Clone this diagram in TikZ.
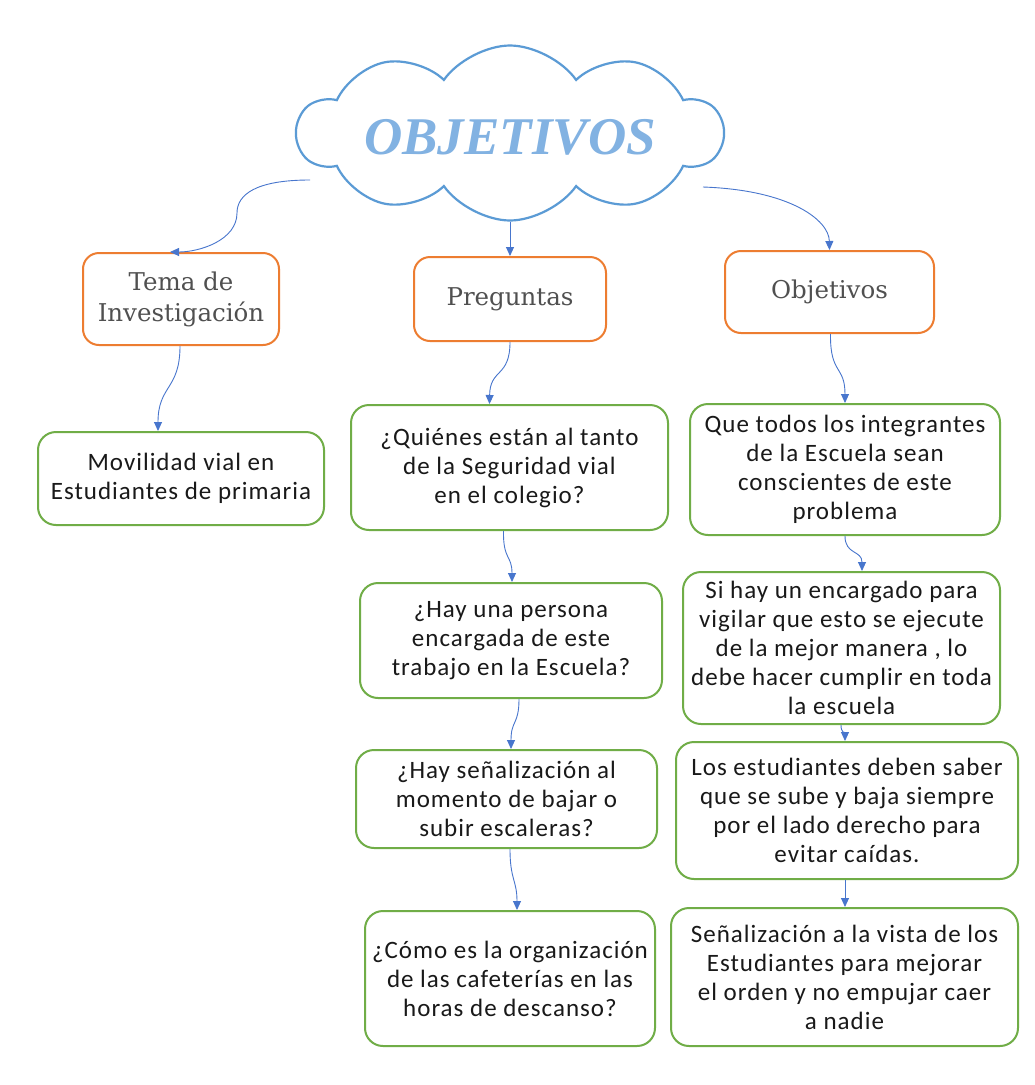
\documentclass[tikz,border=0pt]{standalone}
\usepackage{fontspec}
\setmainfont{Carlito}[LetterSpace=4]
\newfontfamily\headfont{DejaVu Serif}
\newfontfamily\titlefont{Liberation Serif}
\usetikzlibrary{shapes.symbols,arrows.meta,calc}
\definecolor{cloudblue}{RGB}{91,155,213}
\definecolor{titleblue}{RGB}{130,178,226}
\definecolor{arrowblue}{RGB}{72,118,205}
\definecolor{borange}{RGB}{237,125,49}
\definecolor{bgreen}{RGB}{112,173,71}
\definecolor{headgray}{RGB}{80,80,80}
\definecolor{txt}{RGB}{25,25,25}
\tikzset{
  obox/.style={draw=borange, line width=2pt, rounded corners=16pt, fill=white, inner sep=0pt, align=center, font=\headfont\fontsize{24.5}{31}\selectfont, text=headgray},
  gbox/.style={draw=bgreen, line width=2pt, rounded corners=18pt, fill=white, inner sep=0pt, align=center, font=\fontsize{25}{29}\selectfont, text=txt},
  conn/.style={draw=arrowblue, line width=0.9pt, -{Triangle[length=9pt,width=8pt]}}
}
\begin{document}
\begin{tikzpicture}[x=1pt,y=-1pt]
\useasboundingbox[fill=white] (0,0) rectangle (1035,1085);
% cloud
\node[cloud, cloud puffs=10, cloud puff arc=110, cloud ignores aspect, draw=cloudblue, line width=2.2pt, minimum width=425pt, minimum height=175pt, inner sep=0pt] (cloud) at (510,133) {};
\node[font=\titlefont\bfseries\itshape\fontsize{53}{56}\selectfont, text=titleblue] (title) at (510,137) {OBJETIVOS};
% header boxes
\node[obox, minimum width=196pt, minimum height=92pt] (tema) at (181,299) {Tema de\\Investigación};
\node[obox, minimum width=192pt, minimum height=84pt] (preg) at (510,299) {Preguntas};
\node[obox, minimum width=209pt, minimum height=82pt] (obj) at (829.5,292) {Objetivos};
% green boxes
\node[gbox, minimum width=286pt, minimum height=93pt] (mov) at (181,478.5) {Movilidad vial en\\Estudiantes de primaria};
\node[gbox, minimum width=317pt, minimum height=125pt] (q1) at (509.5,467.5) {¿Quiénes están al tanto\\de la Seguridad vial\\en el colegio?};
\node[gbox, minimum width=302pt, minimum height=115pt] (q2) at (511,640.5) {¿Hay una persona\\encargada de este\\trabajo en la Escuela?};
\node[gbox, minimum width=301pt, minimum height=98pt] (q3) at (506.5,799) {¿Hay señalización al\\momento de bajar o\\subir escaleras?};
\node[gbox, minimum width=290pt, minimum height=135pt] (q4) at (510,978.5) {¿Cómo es la organización\\de las cafeterías en las\\horas de descanso?};
\node[gbox, minimum width=310pt, minimum height=131pt] (o1) at (845,469.5) {Que todos los integrantes\\de la Escuela sean\\conscientes de este\\problema};
\node[gbox, minimum width=317pt, minimum height=152pt] (o2) at (841.5,648) {Si hay un encargado para\\vigilar que esto se ejecute\\de la mejor manera , lo\\debe hacer cumplir en toda\\la escuela};
\node[gbox, minimum width=342pt, minimum height=137pt] (o3) at (847,810.5) {Los estudiantes deben saber\\que se sube y baja siempre\\por el lado derecho para\\evitar caídas.};
\node[gbox, minimum width=347pt, minimum height=138pt] (o4) at (844.5,977) {Señalización a la vista de los\\Estudiantes para mejorar\\el orden y no empujar caer\\a nadie};
% connector start points
\coordinate (cl) at (310,180);
\coordinate (cr) at (703,187);
% connectors
\draw[conn] (cl) .. controls (255,180) and (237,195) .. (237,213) .. controls (237,240) and (200,252) .. ($(tema.north)+(-11,0)$);
\draw[conn] (cloud.south) -- (preg.north);
\draw[conn] (cr) .. controls (790,190) and (829,220) .. (obj.north);
\draw[conn] ($(tema.south)+(-1,0)$) .. controls (180,390) and (158,385) .. ($(mov.north)+(-23,0)$);
\draw[conn] (preg.south) .. controls (510,378) and (490,368) .. ($(q1.north)+(-20,0)$);
\draw[conn] ($(obj.south)+(1,0)$) .. controls (830,375) and (845,365) .. (o1.north);
\draw[conn] ($(q1.south)+(-6,0)$) .. controls (503,560) and (512,555) .. ($(q2.north)+(1,0)$);
\draw[conn] ($(q2.south)+(8,0)$) .. controls (519,725) and (511,720) .. ($(q3.north)+(4.5,0)$);
\draw[conn] ($(q3.south)+(3.5,0)$) .. controls (510,880) and (517,880) .. ($(q4.north)+(7,0)$);
\draw[conn] (o1.south) .. controls (845,555) and (862,550) .. ($(o2.north)+(20.5,0)$);
\draw[conn] ($(o2.south)+(-0.5,0)$) .. controls (841,733) and (845,733) .. ($(o3.north)+(-2,0)$);
\draw[conn] ($(o3.south)+(-2,0)$) -- ($(o4.north)+(0.5,0)$);
\end{tikzpicture}
\end{document}
